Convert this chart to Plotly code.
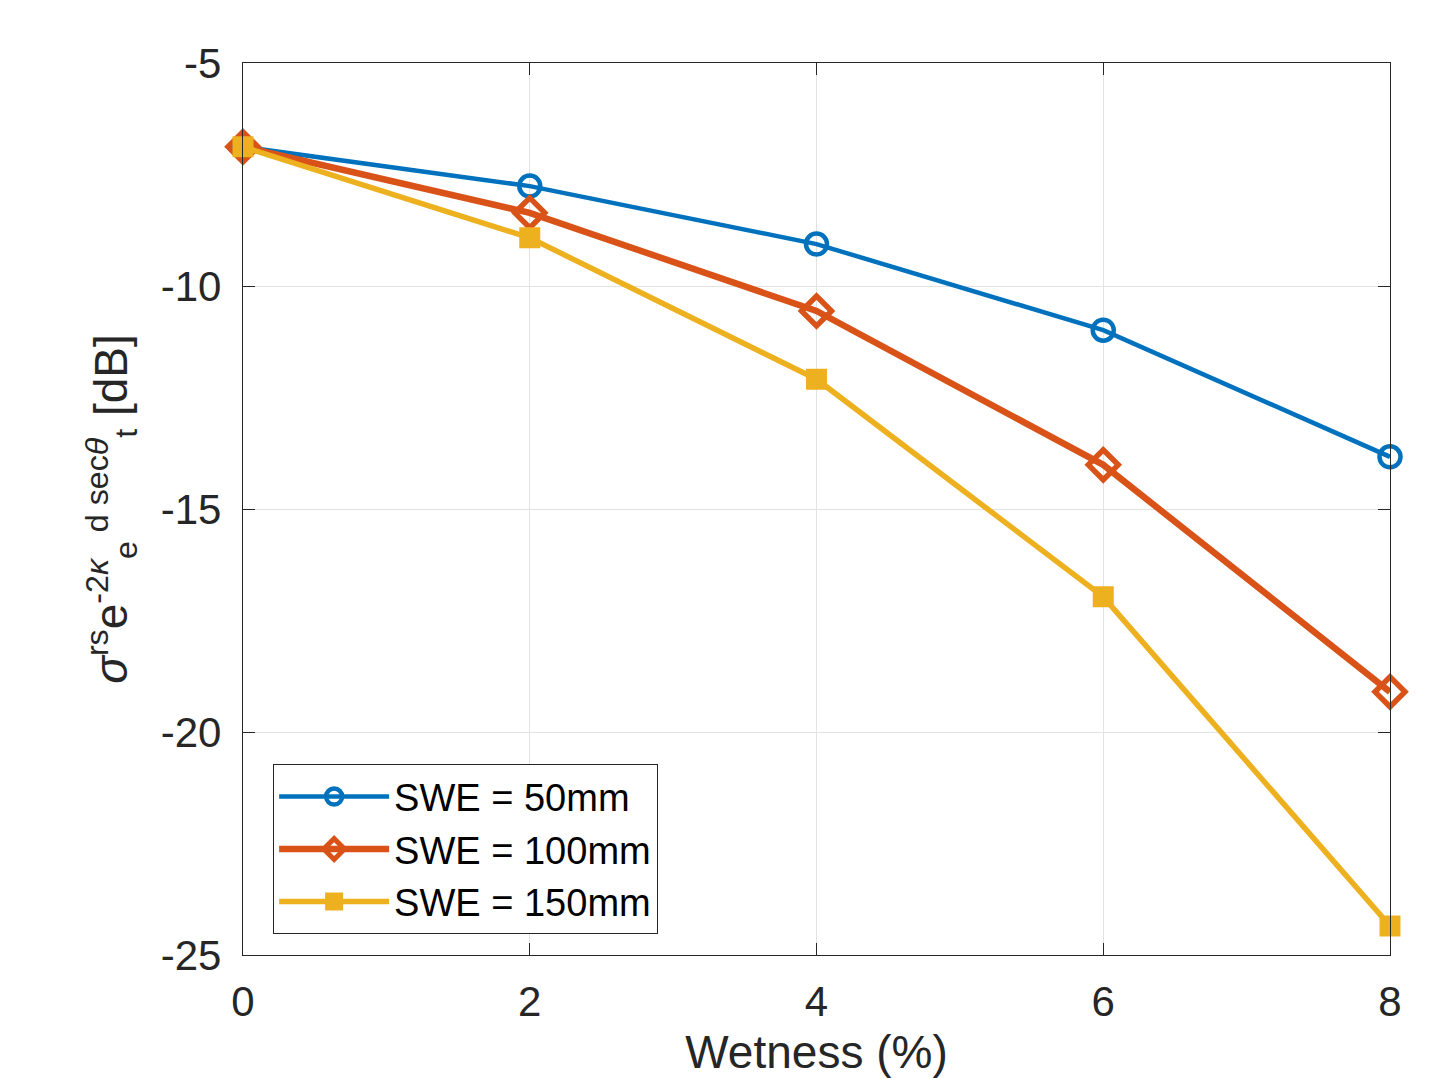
import plotly.graph_objects as go

wetness = [0, 2, 4, 6, 8]
swe50 = [-6.88, -7.76, -9.06, -10.99, -13.83]
swe100 = [-6.88, -8.36, -10.56, -14.01, -19.10]
swe150 = [-6.88, -8.92, -12.09, -16.97, -24.35]
names = ["SWE = 50mm", "SWE = 100mm", "SWE = 150mm"]
x_ticks = [0, 2, 4, 6, 8]
y_ticks = [-25, -20, -15, -10, -5]

FONT = "Liberation Sans, Arial"

fig = go.Figure()
fig.add_trace(go.Scatter(x=wetness, y=swe50, name=names[0], mode="lines+markers", cliponaxis=False,
                         line=dict(color="#0072BD", width=4.5),
                         marker=dict(symbol="circle-open", size=21, color="#0072BD",
                                     line=dict(width=4.5, color="#0072BD"))))
fig.add_trace(go.Scatter(x=wetness, y=swe100, name=names[1], mode="lines+markers", cliponaxis=False,
                         line=dict(color="#D95319", width=6.5),
                         marker=dict(symbol="diamond-open", size=23, color="#D95319",
                                     line=dict(width=5.5, color="#D95319"))))
fig.add_trace(go.Scatter(x=wetness, y=swe150, name=names[2], mode="lines+markers", cliponaxis=False,
                         line=dict(color="#EDB120", width=5.5),
                         marker=dict(symbol="square", size=19, color="#EDB120",
                                     line=dict(width=2, color="#EDB120"))))

axis_common = dict(showline=True, linecolor="#262626", linewidth=1.3, mirror="ticks",
                   ticks="inside", ticklen=12, tickcolor="#262626", tickwidth=1.3,
                   showgrid=True, gridcolor="#E3E3E3", gridwidth=1, zeroline=False,
                   automargin=False,
                   tickfont=dict(family=FONT, size=42, color="#262626"))

fig.update_xaxes(range=[0, 8], tickvals=x_ticks, ticklabelstandoff=9, **axis_common,
                 title=dict(text="Wetness (%)", standoff=22,
                            font=dict(family=FONT, size=46, color="#262626")))
fig.update_yaxes(range=[-25, -5], tickvals=y_ticks, ticktext=[str(v) for v in y_ticks],
                 ticklabelstandoff=12, **axis_common,
                 title=dict(text="<i>σ</i><sup>rs</sup>e<sup>-2<i>κ</i></sup><sub>e</sub><sup> d sec<i>θ</i></sup><sub>t</sub> [dB]",
                            standoff=18,
                            font=dict(family=FONT, size=46, color="#262626")))

fig.update_layout(
    width=1445, height=1078,
    margin=dict(l=243, r=55, t=63, b=123),
    paper_bgcolor="white", plot_bgcolor="white",
    showlegend=True,
    legend=dict(x=0.026, y=0.214, xanchor="left", yanchor="top",
                bgcolor="white", bordercolor="#262626", borderwidth=1.3,
                font=dict(family=FONT, size=38, color="black"),
                itemwidth=110, tracegroupgap=2),
)

fig.write_html("out.html")
